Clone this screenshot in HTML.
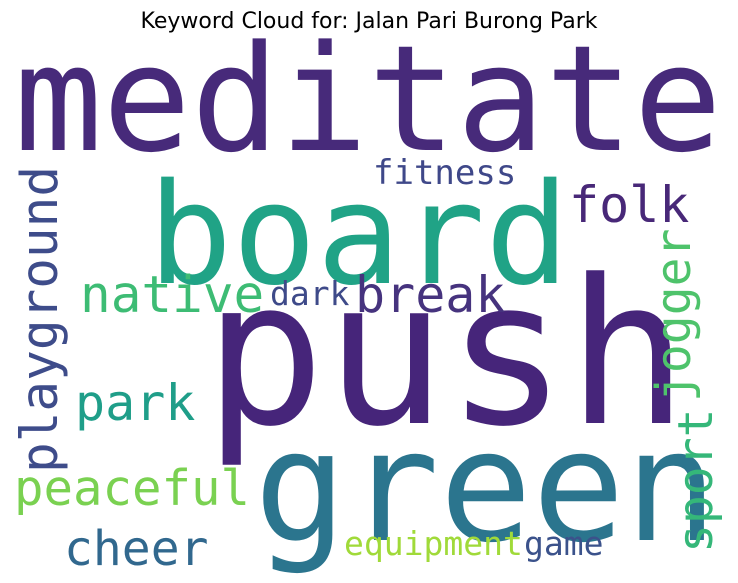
<!DOCTYPE html>
<html><head><meta charset="utf-8"><style>
html,body{margin:0;padding:0;background:#fff;}
svg{display:block;}
</style></head><body>
<svg id="chart" width="738" height="583" viewBox="0 0 738 583" xmlns="http://www.w3.org/2000/svg">
<rect width="738" height="583" fill="#fff"/>
<text x="369" y="28" text-anchor="middle" font-family="DejaVu Sans, Liberation Sans, sans-serif" font-size="22" fill="#000">Keyword Cloud for: Jalan Pari Burong Park</text>
<g id="words"></g>
</svg>
<script>
const words = ["meditate","board","push","green","playground","native","dark","break","folk","fitness","jogger","sport","park","peaceful","cheer","equipment","game"];
const weights = [147,140,201,154,51,51,33,50,50,34,48,48,50,49,48,33,33];
const colors = ["#472a7a","#20a386","#46257a","#2b758e","#3e4c8a","#3dbc74","#3e4a89","#46337e","#482878","#3f4889","#4ec36b","#35b779","#1f9e89","#7ad151","#31688e","#a0da39","#3b528b"];
const layout = [[14,150,0],[148,283,0],[204,423,0],[254,540,0],[57,473,1],[80,312,0],[270,305,0],[355,312,0],[569,222,0],[373,184,0],[690,402,1],[712,553,1],[75,420,0],[14,505,0],[64,565,0],[344,555,0],[524,555,0]];
const g = document.getElementById('words');
const NS = 'http://www.w3.org/2000/svg';
words.forEach((w,i)=>{
  const t = document.createElementNS(NS,'text');
  const [x,y,rot] = layout[i];
  t.setAttribute('x',x); t.setAttribute('y',y);
  if(rot) t.setAttribute('transform','rotate(-90 '+x+' '+y+')');
  t.setAttribute('font-family','DejaVu Sans Mono, Liberation Mono, monospace');
  t.setAttribute('font-size',weights[i]);
  t.setAttribute('fill',colors[i]);
  t.textContent = w;
  
  
  g.appendChild(t);
});
</script>
</body></html>
